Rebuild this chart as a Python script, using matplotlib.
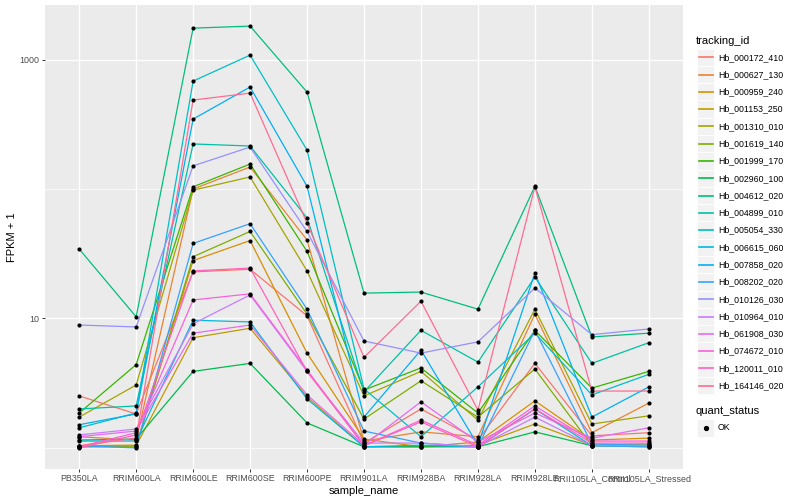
import matplotlib
matplotlib.use("Agg")
import matplotlib.pyplot as plt
from matplotlib.patches import Rectangle
from matplotlib.lines import Line2D
from matplotlib.ticker import FixedLocator, NullFormatter
import numpy as np

plt.rcParams['font.family'] = ['Liberation Sans', 'DejaVu Sans']

samples = ["PB350LA", "RRIM600LA", "RRIM600LE", "RRIM600SE", "RRIM600PE",
           "RRIM901LA", "RRIM928BA", "RRIM928LA", "RRIM928LE",
           "RRII105LA_Control", "RRII105LA_Stressed"]

tracking_ids = ["Hb_000172_410", "Hb_000627_130", "Hb_000959_240", "Hb_001153_250",
                "Hb_001310_010", "Hb_001619_140", "Hb_001999_170", "Hb_002960_100",
                "Hb_004612_020", "Hb_004899_010", "Hb_005054_330", "Hb_006615_060",
                "Hb_007858_020", "Hb_008202_020", "Hb_010126_030", "Hb_010964_010",
                "Hb_061908_030", "Hb_074672_010", "Hb_120011_010", "Hb_164146_020"]

# ggplot hue palette, 20 levels
colors = ["#F8766D", "#EA8331", "#D89000", "#C09B00", "#A3A500", "#7CAE00",
          "#39B600", "#00BB4E", "#00BF7D", "#00C1A3", "#00BFC4", "#00BAE0",
          "#00B0F6", "#35A2FF", "#9590FF", "#C77CFF", "#E76BF3", "#FA62DB",
          "#FF62BC", "#FF6C91"]

# FPKM + 1, one row per tracking_id, columns follow samples
fpkm1 = [
    [2.52, 1.83, 22.9, 24.0, 10.5, 1.09, 2.00, 1.15, 4.50, 1.24, 1.31],
    [1.22, 1.15, 100, 148, 40.4, 1.13, 1.33, 1.22, 10.8, 1.31, 2.22],
    [1.04, 1.05, 28.0, 40.0, 5.40, 1.17, 1.02, 1.11, 2.31, 1.15, 1.19],
    [1.02, 1.04, 7.10, 8.40, 2.48, 1.02, 1.02, 1.05, 1.53, 1.05, 1.07],
    [1.73, 3.06, 98.0, 124, 23.3, 2.52, 3.90, 1.64, 11.8, 1.53, 1.77],
    [1.02, 1.02, 30.0, 47.0, 10.8, 1.67, 3.30, 1.73, 4.07, 1.04, 1.02],
    [1.86, 4.40, 104, 156, 33.0, 2.80, 4.15, 1.86, 8.10, 2.90, 3.90],
    [1.15, 1.17, 3.90, 4.50, 1.56, 1.02, 1.02, 1.02, 1.33, 1.04, 1.04],
    [34.4, 10.3, 1750, 1815, 561, 15.7, 16.0, 11.8, 105, 7.20, 7.70],
    [2.00, 2.11, 223, 215, 59.7, 2.71, 8.10, 4.60, 20.9, 4.50, 6.50],
    [1.43, 1.86, 682, 1083, 200, 2.86, 1.22, 2.96, 7.70, 2.57, 3.70],
    [1.13, 1.13, 9.70, 9.40, 2.39, 1.02, 1.05, 1.02, 2.00, 1.04, 1.02],
    [1.51, 1.83, 347, 614, 105, 1.73, 5.70, 1.05, 22.5, 1.73, 2.96],
    [1.04, 1.00, 38.0, 54.0, 11.8, 1.35, 1.09, 1.02, 8.10, 1.07, 1.05],
    [8.90, 8.60, 151, 211, 47.0, 6.70, 5.40, 6.60, 17.2, 7.50, 8.30],
    [1.26, 1.40, 9.10, 15.2, 3.90, 1.09, 1.09, 1.02, 1.73, 1.04, 1.04],
    [1.22, 1.35, 7.70, 8.90, 2.57, 1.05, 2.27, 1.11, 1.86, 1.19, 1.43],
    [1.02, 1.31, 13.9, 15.5, 4.00, 1.04, 1.64, 1.05, 2.11, 1.13, 1.13],
    [1.00, 1.26, 23.3, 24.5, 3.90, 1.04, 1.59, 1.02, 2.00, 1.09, 1.09],
    [1.04, 1.19, 487, 551, 54.6, 5.00, 13.6, 1.96, 104, 2.75, 2.75],
]

W, H = 800, 500
fig = plt.figure(figsize=(W / 100, H / 100), dpi=100)
ax = fig.add_axes([45 / W, 1 - 469 / H, 638 / W, 464 / H])
ax.set_facecolor("#EBEBEB")
for s in ax.spines.values():
    s.set_visible(False)

x = np.arange(len(samples))
for vals, col in zip(fpkm1, colors):
    ax.plot(x, vals, color=col, lw=0.9, zorder=3)
for vals in fpkm1:
    ax.scatter(x, vals, s=9, color="black", linewidths=0, zorder=4)

# log scale with ggplot-like 5% expansion
ax.set_yscale("log")
lo = np.log10(np.min(fpkm1))
hi = np.log10(np.max(fpkm1))
pad = (hi - lo) * 0.05
ax.set_ylim(10 ** (lo - pad), 10 ** (hi + pad))
ax.set_xlim(-0.6, len(samples) - 0.4)

ax.yaxis.set_major_locator(FixedLocator([10, 1000]))
ax.yaxis.set_minor_locator(FixedLocator([1, 100]))
ax.yaxis.set_minor_formatter(NullFormatter())
ax.set_yticklabels(["10", "1000"])
ax.set_xticks(x)
ax.set_xticklabels(samples)

ax.grid(True, which="major", color="white", lw=1.0, zorder=1)
ax.grid(True, which="minor", axis="y", color="white", lw=0.5, zorder=1)
ax.tick_params(axis="both", which="major", length=2.2, width=0.7, color="#333333",
               labelsize=6.4, labelcolor="#4D4D4D", pad=1.6)
ax.tick_params(axis="y", which="minor", length=0)
ax.set_axisbelow(True)

ax.set_xlabel("sample_name", fontsize=8, labelpad=2)
ax.set_ylabel("FPKM + 1", fontsize=8, labelpad=2)

# legends, built by hand in pixel positions
def fx(px):
    return px / W

def fy(py):
    return 1 - py / H

key = 17.28
fig.text(fx(696), fy(41), "tracking_id", fontsize=8, va="center", ha="left")
for i, (tid, col) in enumerate(zip(tracking_ids, colors)):
    yc = 57.3 + key * i
    fig.add_artist(Rectangle((fx(697), fy(yc + key / 2)), key / W, key / H,
                             transform=fig.transFigure, facecolor="#F2F2F2",
                             edgecolor="white", lw=0.6, zorder=1))
    fig.add_artist(Line2D([fx(698.5), fx(712.5)], [fy(yc), fy(yc)],
                          transform=fig.transFigure, color=col, lw=1.2, zorder=2))
    fig.text(fx(718), fy(yc), tid, fontsize=6.3, va="center", ha="left")

fig.text(fx(696), fy(411), "quant_status", fontsize=8, va="center", ha="left")
fig.add_artist(Rectangle((fx(697), fy(428 + key / 2)), key / W, key / H,
                         transform=fig.transFigure, facecolor="#F2F2F2",
                         edgecolor="white", lw=0.6, zorder=1))
fig.add_artist(Line2D([fx(705.6)], [fy(428)], transform=fig.transFigure,
                      marker="o", markersize=2.8, color="black", lw=0, zorder=2))
fig.text(fx(718), fy(428), "OK", fontsize=6.3, va="center", ha="left")

fig.savefig("out.png", dpi=100)
